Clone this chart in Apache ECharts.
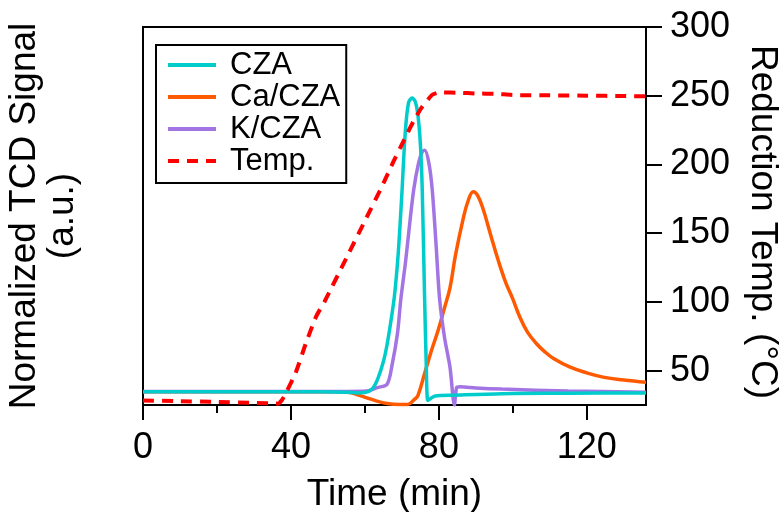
<!DOCTYPE html>
<html>
<head>
<meta charset="utf-8">
<script src="https://cdn.jsdelivr.net/npm/echarts@6/dist/echarts.min.js"></script>
<style>
  html, body { margin: 0; padding: 0; background: #fff; }
  #chart { width: 784px; height: 512px; }
</style>
</head>
<body>
<div id="chart"></div>
<script>
// tick values
const timeTicks = [0, 40, 80, 120];
const tempTicks = [50, 100, 150, 200, 250, 300];

// CZA (normalized, left axis)
const czaTime   = [0, 20, 40, 55, 58, 60, 62, 63.5, 65, 66, 67, 68, 69, 70, 70.9, 71.8, 72.8, 73.6, 74.3, 75, 75.5, 76.1, 76.6, 77, 77.6, 79, 84, 97, 115, 136];
const czaSignal = [3.5, 3.5, 3.5, 3.4, 3.2, 3.3, 4.3, 7, 11.5, 16, 22, 29, 40, 56, 72, 80, 81.2, 80.3, 77, 69, 57, 30, 10, 1.2, 1.6, 2.4, 2.6, 3.0, 3.1, 3.2];

// Ca/CZA
const caTime   = [0, 20, 40, 52, 56, 58, 60.5, 63, 66, 69, 71.5, 73.4, 74.3, 76.1, 78, 79.8, 81.6, 83, 84.5, 86.5, 88, 89.3, 90.5, 92, 94, 96, 98, 100, 102, 104, 106.4, 108.5, 111, 115.5, 120, 124.7, 130, 136];
const caSignal = [3.5, 3.5, 3.5, 3.5, 3.3, 2.7, 1.9, 1.1, 0.4, 0.1, 0.1, 1.5, 2.4, 8.2, 14.4, 19.8, 26, 31, 39.7, 49, 54.3, 56.4, 55.4, 51.7, 45, 38.4, 32.6, 28, 23, 19.2, 16.2, 14.2, 12.3, 10, 8.5, 7.3, 6.6, 6.0];

// K/CZA
const kTime   = [0, 20, 40, 55, 60.5, 63.3, 66, 67.4, 68.8, 69.7, 71, 72, 73.2, 74.5, 75.5, 76.2, 77.3, 78.2, 79.2, 80.2, 81.5, 83, 84.2, 84.8, 85.7, 90, 97, 115, 136];
const kSignal = [3.6, 3.6, 3.6, 3.6, 3.7, 4.6, 5.5, 10.9, 18.9, 27.9, 38, 47, 57, 64, 67, 67.4, 64, 57, 43, 28, 18, 10, 0, 4.6, 4.8, 4.5, 4.2, 3.7, 3.4];

// reduction temperature (right axis, °C)
const tempTime  = [0, 10, 20, 30, 36.5, 38, 41.3, 44, 46.8, 49.1, 55, 60, 64.6, 67.7, 70.4, 73.1, 75.5, 77, 78.2, 79.5, 81.2, 85, 90.4, 95, 97.5, 100, 110, 120, 130, 136];
const tempValue = [28.3, 27.8, 27.2, 26.6, 26, 30.5, 48.7, 69.6, 89.3, 100.3, 132, 159, 184, 202, 216.7, 231.3, 242, 247, 250.7, 252, 252.3, 252.2, 251.6, 251.4, 251, 250.5, 250.3, 250, 249.8, 249.6];

const pairs = (xs, ys) => xs.map((x, i) => [x, ys[i]]);

const font = 'Liberation Sans, Arial, Helvetica, sans-serif';
const black = '#000';

const chart = echarts.init(document.getElementById('chart'));

chart.setOption({
  animation: false,
  textStyle: { fontFamily: font },
  grid: {
    left: 143, right: 138, top: 27, bottom: 107,
    outerBoundsMode: 'none', containLabel: false,
    show: true, borderColor: black, borderWidth: 2
  },
  legend: {
    orient: 'vertical',
    left: 156, top: 45,
    itemWidth: 48, itemHeight: 14, itemGap: 0,
    padding: [4, 6, 6, 10],
    borderColor: black, borderWidth: 2,
    itemStyle: { opacity: 0 },
    lineStyle: { width: 4 },
    textStyle: { fontSize: 31, color: black, lineHeight: 32, padding: [0, 0, 0, 9] },
    data: ['CZA', 'Ca/CZA', 'K/CZA', 'Temp.']
  },
  xAxis: {
    type: 'value', min: 0, max: 136, interval: 40,
    axisLine: { lineStyle: { color: black, width: 2 } },
    axisTick: { length: 15, lineStyle: { color: black, width: 2 }, customValues: timeTicks },
    minorTick: { show: true, splitNumber: 2, length: 8, lineStyle: { color: black, width: 2 } },
    axisLabel: { customValues: timeTicks, fontSize: 36, color: black, margin: 25 },
    splitLine: { show: false },
    name: 'Time (min)', nameLocation: 'middle', nameGap: 71,
    nameTextStyle: { fontSize: 37, color: black }
  },
  yAxis: [{
    type: 'value', min: 0, max: 100, position: 'left',
    axisLine: { show: true, lineStyle: { color: black, width: 2 } },
    axisTick: { show: false },
    axisLabel: { show: false },
    splitLine: { show: false },
    name: 'Normalized TCD Signal\n(a.u.)', nameLocation: 'middle', nameRotate: 90, nameGap: 61,
    nameTextStyle: { fontSize: 37, color: black, lineHeight: 38 }
  }, {
    type: 'value', min: 25, max: 300, position: 'right',
    axisLine: { show: true, lineStyle: { color: black, width: 2 } },
    axisTick: { length: 16, lineStyle: { color: black, width: 2 }, customValues: tempTicks },
    axisLabel: { customValues: tempTicks, fontSize: 36, color: black, margin: 24 },
    splitLine: { show: false },
    name: 'Reduction Temp. (°C)', nameLocation: 'middle', nameRotate: -90, nameGap: 98,
    nameTextStyle: { fontSize: 37, color: black, padding: [0, 0, 0, 12] }
  }],
  series: [{
    name: 'CZA', type: 'line', symbol: 'none', z: 4, smooth: 0.3,
    lineStyle: { color: '#00CCCC', width: 3.5 }, itemStyle: { color: '#00CCCC' },
    data: pairs(czaTime, czaSignal)
  }, {
    name: 'Ca/CZA', type: 'line', symbol: 'none', z: 2, smooth: 0.4,
    lineStyle: { color: '#FF5A00', width: 3.5 }, itemStyle: { color: '#FF5A00' },
    data: pairs(caTime, caSignal)
  }, {
    name: 'K/CZA', type: 'line', symbol: 'none', z: 3, smooth: 0.3,
    lineStyle: { color: '#A374E3', width: 3.5 }, itemStyle: { color: '#A374E3' },
    data: pairs(kTime, kSignal)
  }, {
    name: 'Temp.', type: 'line', symbol: 'none', yAxisIndex: 1, z: 5, smooth: 0.2,
    lineStyle: { color: '#FF0000', width: 4, type: [11, 8] }, itemStyle: { color: '#FF0000' },
    data: pairs(tempTime, tempValue)
  }]
});
</script>
</body>
</html>
